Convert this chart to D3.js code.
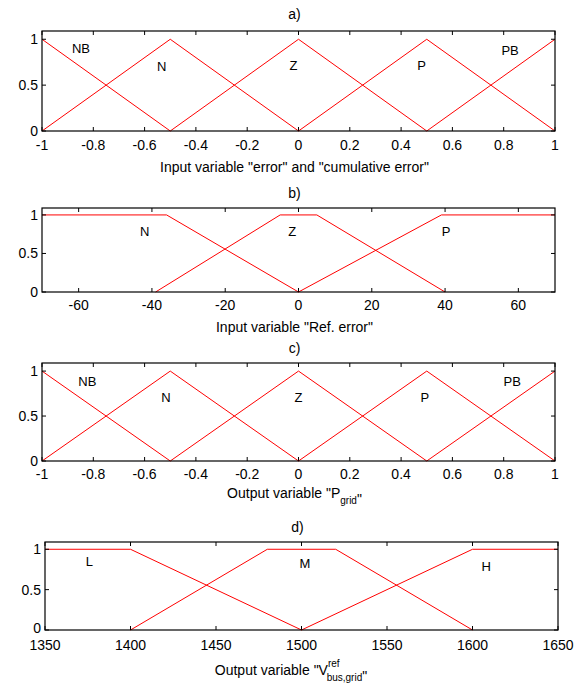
<!DOCTYPE html>
<html><head><meta charset="utf-8">
<script src="https://cdn.jsdelivr.net/npm/d3@7"></script>
<style>body{margin:0;background:#fff}text{font-family:"Liberation Sans",Arial,sans-serif;font-size:14px;fill:#000}</style>
</head><body>
<svg id="c" width="580" height="686"></svg>
<script>
// ---- data ----
const titles = ["a)", "b)", "c)", "d)"];
const xDomains = [[-1, 1], [-70, 70], [-1, 1], [1350, 1650]];
const xTicksA = [-1, -0.8, -0.6, -0.4, -0.2, 0, 0.2, 0.4, 0.6, 0.8, 1];
const xTicksB = [-60, -40, -20, 0, 20, 40, 60];
const xTicksC = [-1, -0.8, -0.6, -0.4, -0.2, 0, 0.2, 0.4, 0.6, 0.8, 1];
const xTicksD = [1350, 1400, 1450, 1500, 1550, 1600, 1650];
const yTicks = [0, 0.5, 1];
const yTickLabels = ["0", "0.5", "1"];
// membership functions: breakpoints x, membership y, label position
const mfA = [
  {name: "NB", x: [-1, -0.5], y: [1, 0], lx: -0.848, ly: 0.905},
  {name: "N",  x: [-1, -0.5, 0], y: [0, 1, 0], lx: -0.533, ly: 0.70},
  {name: "Z",  x: [-0.5, 0, 0.5], y: [0, 1, 0], lx: -0.02, ly: 0.71},
  {name: "P",  x: [0, 0.5, 1], y: [0, 1, 0], lx: 0.48, ly: 0.71},
  {name: "PB", x: [0.5, 1], y: [0, 1], lx: 0.825, ly: 0.88}
];
const mfB = [
  {name: "N", x: [-70, -36, 0], y: [1, 1, 0], lx: -42, ly: 0.78},
  {name: "Z", x: [-39, -5, 5, 40], y: [0, 1, 1, 0], lx: -1.7, ly: 0.78},
  {name: "P", x: [0, 39, 70], y: [0, 1, 1], lx: 40.3, ly: 0.79}
];
const mfC = [
  {name: "NB", x: [-1, -0.5], y: [1, 0], lx: -0.823, ly: 0.88},
  {name: "N",  x: [-1, -0.5, 0], y: [0, 1, 0], lx: -0.517, ly: 0.71},
  {name: "Z",  x: [-0.5, 0, 0.5], y: [0, 1, 0], lx: 0.0, ly: 0.71},
  {name: "P",  x: [0, 0.5, 1], y: [0, 1, 0], lx: 0.493, ly: 0.71},
  {name: "PB", x: [0.5, 1], y: [0, 1], lx: 0.833, ly: 0.88}
];
const mfD = [
  {name: "L", x: [1350, 1400, 1500], y: [1, 1, 0], lx: 1376, ly: 0.85},
  {name: "M", x: [1400, 1480, 1520, 1600], y: [0, 1, 1, 0], lx: 1502, ly: 0.82},
  {name: "H", x: [1500, 1600, 1650], y: [0, 1, 1], lx: 1608, ly: 0.79}
];

const svg = d3.select("#c");
const panels = [
  {l: 42, r: 555, t: 31, b: 131, titleY: 19, tickY: 150, labY: 172, yLabShift: 0, ticks: xTicksA, mf: mfA,
   label: [{t: 'Input variable "error" and "cumulative error"'}]},
  {l: 42, r: 555, t: 208, b: 292, titleY: 198, tickY: 310, labY: 332, yLabShift: 0, ticks: xTicksB, mf: mfB,
   label: [{t: 'Input variable "Ref. error"'}]},
  {l: 42, r: 555, t: 363, b: 461, titleY: 353, tickY: 479, labY: 498, yLabShift: 0, ticks: xTicksC, mf: mfC,
   label: [{t: 'Output variable "P'}, {t: 'grid', sub: true}, {t: '"'}]},
  {l: 45, r: 558, t: 542, b: 630, titleY: 532, tickY: 650, labY: 675, yLabShift: -2, ticks: xTicksD, mf: mfD,
   label: [{t: 'Output variable "V'}, {t: 'ref', sup: true, stack: 'bus,grid'}, {t: '"'}]}
];

panels.forEach((p, i) => {
  const x = d3.scaleLinear().domain(xDomains[i]).range([p.l, p.r]);
  const y = d3.scaleLinear().domain([0, 1.09]).range([p.b, p.t]);
  const g = svg.append("g");
  g.append("text").attr("x", (p.l + p.r) / 2 - 4).attr("y", p.titleY).attr("text-anchor", "middle").text(titles[i]);
  const line = d3.line().x(d => x(d[0])).y(d => y(d[1]));
  p.mf.forEach(m => {
    g.append("path").attr("d", line(m.x.map((v, k) => [v, m.y[k]])))
      .attr("fill", "none").attr("stroke", "#ff0000").attr("stroke-width", 1);
    g.append("text").attr("x", x(m.lx)).attr("y", y(m.ly)).attr("dy", "0.35em")
      .attr("text-anchor", "middle").style("font-size", "13px").text(m.name);
  });
  g.append("rect").attr("x", p.l).attr("y", p.t).attr("width", p.r - p.l).attr("height", p.b - p.t)
    .attr("fill", "none").attr("stroke", "#000").attr("stroke-width", 1.2);
  const tl = 4;
  p.ticks.forEach(v => {
    g.append("line").attr("x1", x(v)).attr("x2", x(v)).attr("y1", p.b).attr("y2", p.b - tl).attr("stroke", "#000");
    g.append("line").attr("x1", x(v)).attr("x2", x(v)).attr("y1", p.t).attr("y2", p.t + tl).attr("stroke", "#000");
    g.append("text").attr("x", x(v)).attr("y", p.tickY).attr("text-anchor", "middle").text(String(v));
  });
  yTicks.forEach((v, k) => {
    g.append("line").attr("x1", p.l).attr("x2", p.l + tl).attr("y1", y(v)).attr("y2", y(v)).attr("stroke", "#000");
    g.append("line").attr("x1", p.r).attr("x2", p.r - tl).attr("y1", y(v)).attr("y2", y(v)).attr("stroke", "#000");
    g.append("text").attr("x", p.l - 4).attr("y", y(v) + (v === 0 ? p.yLabShift : 0)).attr("dy", "0.35em")
      .attr("text-anchor", "end").text(yTickLabels[k]);
  });
  const lab = g.append("text").attr("y", p.labY).attr("text-anchor", "start");
  p.label.forEach(part => {
    if (part.sub) {
      lab.append("tspan").attr("dy", 6).style("font-size", "10px").text(part.t);
      lab.append("tspan").attr("dy", -6).text("");
    } else if (part.sup) {
      lab.append("tspan").attr("dy", -8).style("font-size", "10px").text(part.t);
      lab.append("tspan").attr("dy", 14).attr("dx", -13).style("font-size", "10px").text(part.stack);
      lab.append("tspan").attr("dy", -6).text("");
    } else {
      lab.append("tspan").text(part.t);
    }
  });
  const w = lab.node().getComputedTextLength();
  lab.attr("x", (p.l + p.r) / 2 - w / 2 - 4);
});
</script>
</body></html>
